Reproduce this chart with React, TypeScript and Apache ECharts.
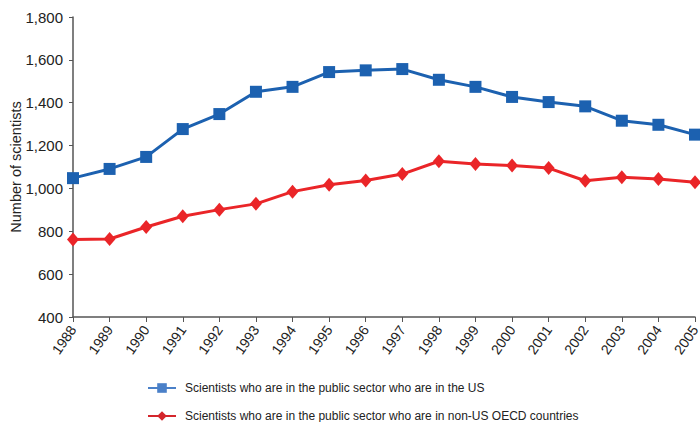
import React, { useEffect, useRef } from "react";
import * as echarts from "echarts";

const years = ["1988","1989","1990","1991","1992","1993","1994","1995","1996","1997","1998","1999","2000","2001","2002","2003","2004","2005"];
const usValues = [1048, 1091, 1147, 1277, 1347, 1451, 1474, 1543, 1551, 1557, 1507, 1474, 1427, 1403, 1383, 1316, 1297, 1251];
const oecdValues = [762, 764, 820, 870, 901, 928, 985, 1017, 1037, 1067, 1127, 1114, 1107, 1095, 1036, 1052, 1044, 1029];
const yTicks = { min: 400, max: 1800, interval: 200 };
const usName = "Scientists who are in the public sector who are in the US";
const oecdName = "Scientists who are in the public sector who are in non-US OECD countries";

export default function App() {
  const ref = useRef<HTMLDivElement>(null);
  useEffect(() => {
    const chart = echarts.init(ref.current!, null, { renderer: "svg" });
    const font = "Liberation Sans, Arial, Helvetica, sans-serif";
    const legendBase = {
      left: 142,
      itemWidth: 28,
      itemHeight: 12,
      textStyle: { fontFamily: font, fontSize: 12, color: "#222", padding: [0, 0, 0, 4] },
    };
    chart.setOption({
      animation: false,
      textStyle: { fontFamily: font },
      grid: { left: 73, right: 5, top: 17, bottom: 105, containLabel: false, outerBoundsMode: "none" },
      legend: [
        {
          ...legendBase,
          top: 377,
          data: [{ name: usName, itemStyle: { color: "#4a80c8" }, lineStyle: { color: "#4a80c8" } }],
        },
        {
          ...legendBase,
          top: 405,
          data: [{ name: oecdName, itemStyle: { color: "#d4262c" }, lineStyle: { color: "#d4262c" } }],
        },
      ],
      xAxis: {
        type: "category",
        data: years,
        boundaryGap: false,
        axisLine: { lineStyle: { color: "#555", width: 1.5 } },
        axisTick: { show: true, length: 5, lineStyle: { color: "#555" }, alignWithLabel: true },
        axisLabel: { rotate: 55, color: "#222", fontSize: 14, margin: 10, interval: 0, fontFamily: font },
      },
      yAxis: {
        type: "value",
        min: yTicks.min,
        max: yTicks.max,
        interval: yTicks.interval,
        name: "Number of scientists",
        nameLocation: "middle",
        nameGap: 50,
        nameMoveOverlap: false,
        nameTextStyle: { fontSize: 14.5, color: "#222", fontFamily: font },
        splitLine: { show: false },
        axisLine: { show: true, lineStyle: { color: "#555", width: 1.5 } },
        axisTick: { show: true, length: 4, lineStyle: { color: "#555" } },
        axisLabel: {
          color: "#222",
          fontSize: 15,
          margin: 10,
          fontFamily: font,
          formatter: (v: number) => v.toLocaleString("en-US"),
        },
      },
      series: [
        {
          name: usName,
          type: "line",
          data: usValues,
          symbol: "rect",
          symbolSize: 12,
          lineStyle: { color: "#1c61b0", width: 3 },
          itemStyle: { color: "#1c61b0" },
        },
        {
          name: oecdName,
          type: "line",
          data: oecdValues,
          symbol: "diamond",
          symbolSize: [12, 14],
          lineStyle: { color: "#ea2528", width: 3 },
          itemStyle: { color: "#ea2528" },
        },
      ],
    });
    return () => chart.dispose();
  }, []);
  return <div ref={ref} style={{ width: 700, height: 422, position: "absolute", left: 0, top: 0 }} />;
}
